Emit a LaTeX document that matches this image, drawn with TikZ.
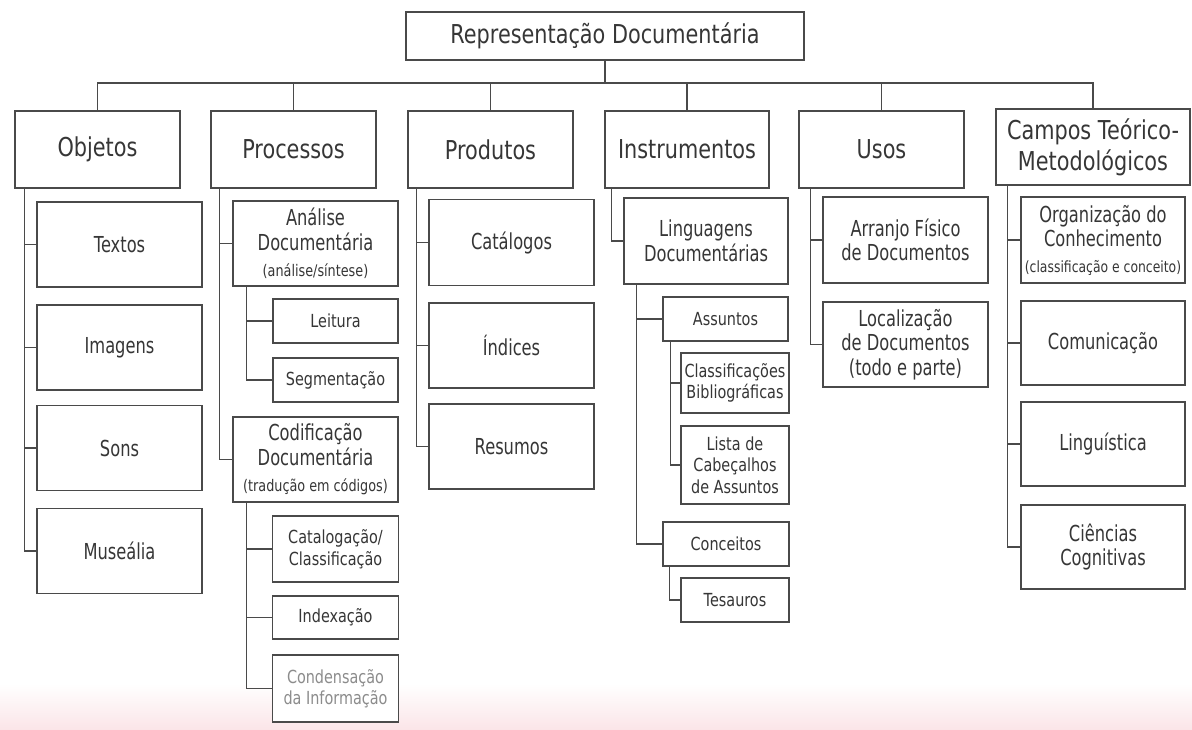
\documentclass[tikz,border=0pt]{standalone}
\usepackage{fontspec}
\setmainfont{DejaVu Sans}[FakeStretch=0.8]
\newfontfamily\midfont{DejaVu Sans}[FakeStretch=0.74]
\definecolor{ln}{HTML}{4A4A4A}
\definecolor{tx}{HTML}{363636}
\definecolor{tg}{HTML}{8C8C8C}
\definecolor{pk}{RGB}{251,229,232}
\newcommand\parenfont{\normalfont\fontsize{16}{19}\selectfont}
\begin{document}
\begin{tikzpicture}[x=1pt,y=-1pt,
  box/.style={draw=ln, line width=1.4pt, fill=white, text=tx, align=center, inner sep=0pt},
  big/.style={box, font=\fontsize{26}{31}\selectfont, minimum width=165pt, minimum height=77pt},
  mid/.style={box, font=\midfont\fontsize{22}{24.5}\selectfont, minimum width=165pt, minimum height=85pt},
  sml/.style={box, font=\fontsize{18}{21.5}\selectfont},
  conn/.style={draw=ln, line width=1.4pt},
]
\useasboundingbox (0,0) rectangle (1192,729);
\fill[white] (0,0) rectangle (1192,729);
\shade[top color=white, bottom color=pk] (0,684) rectangle (1192,729);

% root
\node[box, font=\fontsize{26}{31}\selectfont, minimum width=398pt, minimum height=48pt] (root) at (605,36) {Representação Documentária};

% level 1
\node[big] (obj)  at (97.5,149.5)  {Objetos};
\node[big] (proc) at (293.5,149.5) {Processos};
\node[big] (prod) at (490.5,149.5) {Produtos};
\node[big, minimum width=164pt] (inst) at (687,149.5) {Instrumentos};
\node[big] (usos) at (881.5,149.5) {Usos};
\node[big, minimum width=194pt, minimum height=76pt] (camp) at (1093,147) {Campos Teórico-\\Metodológicos};

\coordinate (bus) at (0,83);
\foreach \n in {obj,proc,prod,inst,usos,camp}
  \draw[conn] (root.south) -- (root.south |- bus) -| (\n.north);

% Objetos
\node[mid] (textos)  at (119.5,244.5) {Textos};
\node[mid] (imagens) at (119.5,347.5) {Imagens};
\node[mid] (sons)    at (119.5,448)   {Sons};
\node[mid] (museal)  at (119.5,551)   {Museália};
\foreach \n in {textos,imagens,sons,museal}
  \draw[conn] ([xshift=10pt]obj.south west) |- (\n.west);

% Processos
\node[mid] (analise) at (315.5,243.5) {Análise\\Documentária\\[2pt]{\parenfont(análise/síntese)}};
\node[sml, minimum width=125pt, minimum height=44pt] (leitura) at (335.5,321) {Leitura};
\node[sml, minimum width=125pt, minimum height=44pt] (segment) at (335.5,380) {Segmentação};
\node[mid] (codif) at (315.5,459.5) {Codificação\\Documentária\\[2pt]{\parenfont(tradução em códigos)}};
\node[sml, minimum width=126pt, minimum height=66pt] (catal) at (335.5,549) {Catalogação/\\Classificação};
\node[sml, minimum width=126pt, minimum height=43pt] (index) at (335.5,617.5) {Indexação};
\node[sml, minimum width=126pt, minimum height=67pt, text=tg] (conden) at (335.5,688.5) {Condensação\\da Informação};
\foreach \n in {analise,codif}
  \draw[conn] ([xshift=9pt]proc.south west) |- (\n.west);
\foreach \n in {leitura,segment}
  \draw[conn] ([xshift=14pt]analise.south west) |- (\n.west);
\foreach \n in {catal,index,conden}
  \draw[conn] ([xshift=14pt]codif.south west) |- (\n.west);

% Produtos
\node[mid, minimum height=86pt] (catalogos) at (511.5,242.5) {Catálogos};
\node[mid] (indices) at (511.5,345.5) {Índices};
\node[mid] (resumos) at (511.5,446.5) {Resumos};
\foreach \n in {catalogos,indices,resumos}
  \draw[conn] ([xshift=9pt]prod.south west) |- (\n.west);

% Instrumentos
\node[mid, minimum width=164pt, minimum height=86pt] (ling) at (706,241) {Linguagens\\Documentárias};
\node[sml, minimum width=125pt, minimum height=44pt] (assuntos) at (725.5,319) {Assuntos};
\node[sml, minimum width=108pt, minimum height=60pt] (classif) at (735,383) {Classificações\\Bibliográficas};
\node[sml, minimum width=108pt, minimum height=78pt] (lista) at (735,465) {Lista de\\Cabeçalhos\\de Assuntos};
\node[sml, minimum width=126pt, minimum height=44pt] (conceitos) at (726,544) {Conceitos};
\node[sml, minimum width=108pt, minimum height=44pt] (tesauros) at (735,600) {Tesauros};
\draw[conn] ([xshift=7pt]inst.south west) |- (ling.west);
\foreach \n in {assuntos,conceitos}
  \draw[conn] ([xshift=13pt]ling.south west) |- (\n.west);
\foreach \n in {classif,lista}
  \draw[conn] ([xshift=8pt]assuntos.south west) |- (\n.west);
\draw[conn] ([xshift=7pt]conceitos.south west) |- (tesauros.west);

% Usos
\node[mid, minimum height=86pt] (arranjo) at (905.5,240) {Arranjo Físico\\de Documentos};
\node[mid] (local) at (905.5,344.5) {Localização\\de Documentos\\(todo e parte)};
\foreach \n in {arranjo,local}
  \draw[conn] ([xshift=12pt]usos.south west) |- (\n.west);

% Campos
\node[mid, minimum width=164pt, minimum height=86pt] (org) at (1103,240) {Organização do\\Conhecimento\\[1pt]{\normalfont\fontsize{15.5}{18}\selectfont(classificação e conceito)}};
\node[mid, minimum width=164pt, minimum height=84pt] (comun) at (1103,343) {Comunicação};
\node[mid, minimum width=164pt, minimum height=84pt] (lingu) at (1103,444) {Linguística};
\node[mid, minimum width=164pt, minimum height=84pt] (cienc) at (1103,547) {Ciências\\Cognitivas};
\foreach \n in {org,comun,lingu,cienc}
  \draw[conn] ([xshift=12pt]camp.south west) |- (\n.west);
\end{tikzpicture}
\end{document}
